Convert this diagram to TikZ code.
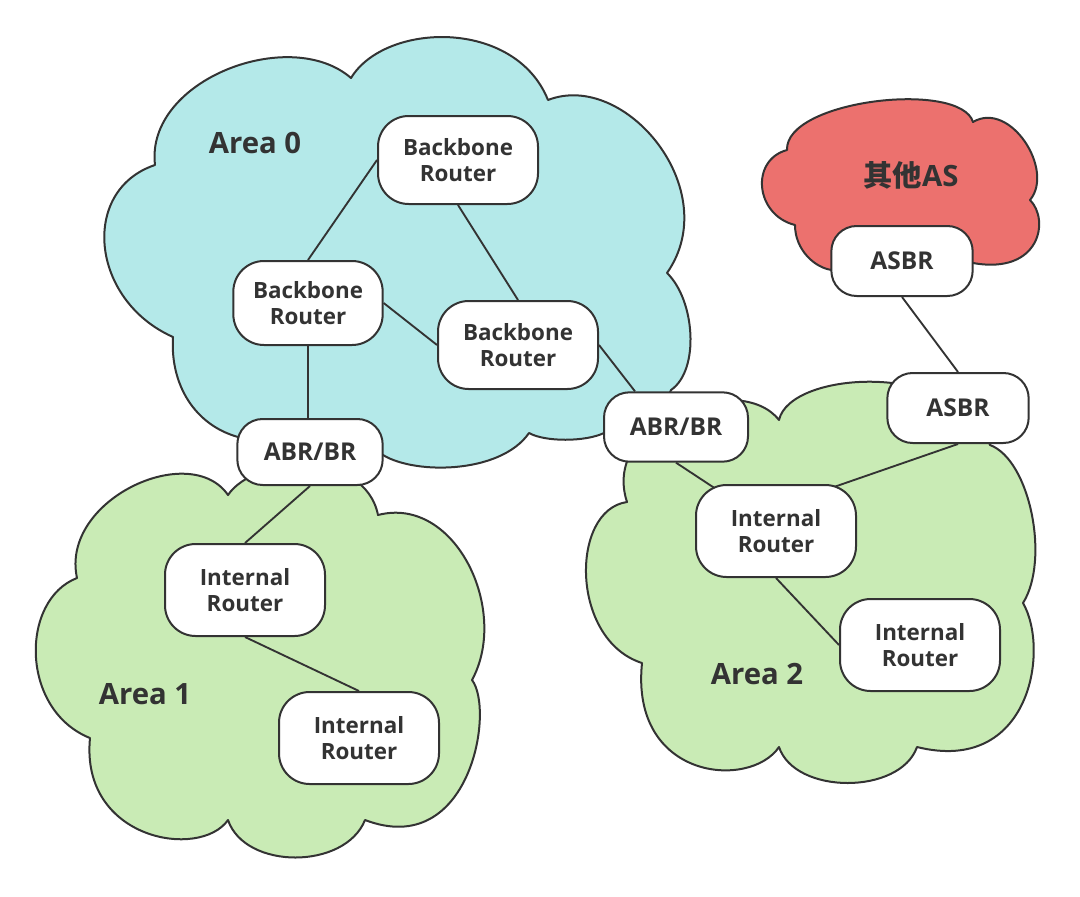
\documentclass[tikz,border=0pt]{standalone}
\usepackage{fontspec}
\setmainfont{Open Sans}
\newfontfamily\cjk{Noto Sans CJK SC}
\usetikzlibrary{calc}
\definecolor{dk}{HTML}{333333}
\definecolor{bluec}{HTML}{B4E9E9}
\definecolor{greenc}{HTML}{C9EBB5}
\definecolor{redc}{HTML}{EC716E}
\pgfdeclarelayer{bg}
\pgfdeclarelayer{edges}
\pgfsetlayers{bg,edges,main}
\tikzset{
  rt/.style={draw=dk, line width=1.5pt, fill=white, rounded corners=23pt, align=center, text=dk,
    font=\bfseries\fontsize{16.8}{19.5}\selectfont, inner sep=0pt},
  bigbox/.style={minimum width=120pt, minimum height=66pt},
  irbox/.style={minimum width=120pt, minimum height=69pt},
  smallbox/.style={rounded corners=19pt, font=\bfseries\fontsize{18.4}{22}\selectfont},
  cl/.style={draw=dk, line width=1.5pt, line join=round},
  ln/.style={draw=dk, line width=1.4pt},
  lbl/.style={text=dk, font=\bfseries\fontsize{22}{26}\selectfont, inner sep=0pt}
}
\begin{document}
\begin{tikzpicture}[x=0.75pt,y=-0.75pt]
\useasboundingbox (0,0) rectangle (1080,896);
\begin{pgfonlayer}{bg}
% Area 0 (blue)
\path[cl, fill=bluec] (155,165) .. controls (145,80) and (290,25) .. (351,78)
  .. controls (385,22) and (515,18) .. (548,100)
  .. controls (625,70) and (725,190) .. (667,273)
  .. controls (695,300) and (700,370) .. (671,390)
  .. controls (660,420) and (625,440) .. (604,433)
  .. controls (585,442) and (545,442) .. (529,433)
  .. controls (500,475) and (410,475) .. (380,453)
  .. controls (340,470) and (260,460) .. (238,437)
  .. controls (195,425) and (170,385) .. (173,337)
  .. controls (90,300) and (80,190) .. (155,165) -- cycle;
% Area 1 (green)
\path[cl, fill=greenc] (228,495) .. controls (255,455) and (365,450) .. (378,515)
  .. controls (455,495) and (510,610) .. (472,680)
  .. controls (495,710) and (470,860) .. (365,820)
  .. controls (345,870) and (245,870) .. (228,820)
  .. controls (200,860) and (80,840) .. (90,738)
  .. controls (20,710) and (20,600) .. (77,578)
  .. controls (60,500) and (190,440) .. (228,495) -- cycle;
% Area 2 (green)
\path[cl, fill=greenc] (627,502) .. controls (600,420) and (740,370) .. (779,420)
  .. controls (790,370) and (960,360) .. (990,445)
  .. controls (1030,460) and (1050,560) .. (1023,603)
  .. controls (1050,650) and (1030,775) .. (917,747)
  .. controls (900,795) and (795,795) .. (779,747)
  .. controls (750,790) and (630,780) .. (642,663)
  .. controls (570,640) and (570,510) .. (627,502) -- cycle;
% other AS (red)
\path[cl, fill=redc] (832,270) .. controls (815,268) and (795,250) .. (795,225)
  .. controls (755,215) and (750,160) .. (787,150)
  .. controls (785,100) and (960,80) .. (973,122)
  .. controls (1010,100) and (1055,170) .. (1030,200)
  .. controls (1050,220) and (1040,275) .. (973,263)
  -- cycle;
\end{pgfonlayer}

\node[lbl] (a0) at (255,143) {Area 0};
\node[lbl] (a1) at (145,694) {Area 1};
\node[lbl] (a2) at (757,674) {Area 2};
\node[lbl] (oas) at (911,175) {{\cjk 其他}AS};

\node[rt,bigbox] (bb1) at (458,160) {Backbone\\Router};
\node[rt,minimum width=112pt,minimum height=63pt] (bb2) at (308,303) {Backbone\\Router};
\node[rt,bigbox] (bb3) at (518,345) {Backbone\\Router};
\node[rt,smallbox,minimum width=109pt,minimum height=49.5pt] (abr1) at (310,452) {ABR/BR};
\node[rt,smallbox,minimum width=108pt,minimum height=52pt] (abr2) at (676,427) {ABR/BR};
\node[rt,smallbox,minimum width=106pt,minimum height=52.5pt] (asbr1) at (902,261) {ASBR};
\node[rt,smallbox,minimum width=106pt,minimum height=52.5pt] (asbr2) at (958,408) {ASBR};
\node[rt,irbox] (ir1) at (245,590) {Internal\\Router};
\node[rt,irbox] (ir2) at (359,738) {Internal\\Router};
\node[rt,irbox] (ir3) at (776,531) {Internal\\Router};
\node[rt,irbox] (ir4) at (920,645) {Internal\\Router};

\begin{pgfonlayer}{edges}
\draw[ln] (bb1.west) -- (bb2.north);
\draw[ln] (bb1.south) -- (bb3.north);
\draw[ln] (bb2.east) -- (bb3.west);
\draw[ln] (bb2.south) -- (bb2.south |- abr1.north);
\draw[ln] (bb3.east) -- ($(abr2.north)+(-41,0)$);
\draw[ln] (abr1.south) -- (ir1.north);
\draw[ln] (ir1.south) -- (ir2.north);
\draw[ln] (abr2.south) -- ($(ir3.north)+(-60,5)$);
\draw[ln] ($(ir3.north)+(55,4)$) -- (asbr2.south);
\draw[ln] (ir3.south) -- (ir4.west);
\draw[ln] (asbr1.south) -- (asbr2.north);
\end{pgfonlayer}
\end{tikzpicture}
\end{document}
